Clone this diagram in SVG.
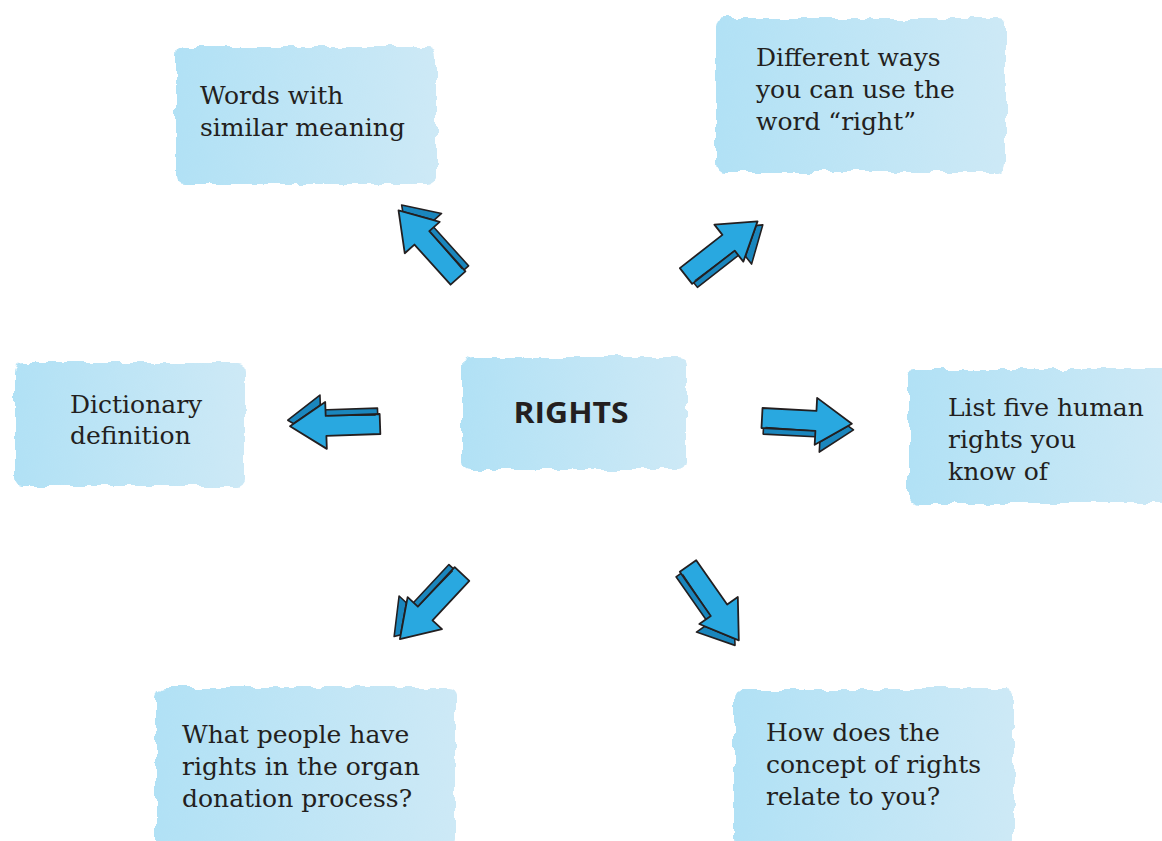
<svg xmlns="http://www.w3.org/2000/svg" width="1162" height="841" viewBox="0 0 1162 841">
  <defs>
    <linearGradient id="wash" x1="0" y1="0" x2="1" y2="0">
      <stop offset="0" stop-color="#b1e1f5"/>
      <stop offset="1" stop-color="#cde9f6"/>
    </linearGradient>
    <filter id="rough" x="-5%" y="-5%" width="110%" height="110%">
      <feTurbulence type="fractalNoise" baseFrequency="0.06" numOctaves="2" seed="3" result="n"/>
      <feDisplacementMap in="SourceGraphic" in2="n" scale="10" xChannelSelector="R" yChannelSelector="G"/>
    </filter>
    <!-- hand-drawn style arrow pointing along +x, tail at origin -->
    <g id="arrow">
      <polygon points="2,3 56,3 56,-16 92,7 59,31 59,16 2,16" fill="#1a86bd" stroke="#231f20" stroke-width="1.6" stroke-linejoin="round"/>
      <polygon points="0,-10 54,-10 54,-23 90,1 54,24 54,10 0,10" fill="#29a8e0" stroke="#231f20" stroke-width="1.8" stroke-linejoin="round"/>
      <path d="M4,9 L52,10 M58,22 L86,4" stroke="#231f20" stroke-width="1" fill="none"/>
    </g>
    <style>
      .box { fill: url(#wash); filter: url(#rough); }
      .lbl { font-family: "DejaVu Serif", "Liberation Serif", serif; font-size: 25px; fill: #231f20; }
      .hub { font-family: "Open Sans", "Liberation Sans", sans-serif; font-size: 28px; font-weight: bold; fill: #231f20; }
    </style>
  </defs>

  <rect width="1162" height="841" fill="#ffffff"/>

  <g id="node-similar">
    <rect class="box" x="176" y="47" width="260" height="137" rx="8"/>
    <text class="lbl" x="200" y="104">Words with</text>
    <text class="lbl" x="200" y="136">similar meaning</text>
  </g>

  <g id="node-ways">
    <rect class="box" x="716" y="18" width="290" height="154" rx="8"/>
    <text class="lbl" x="756" y="66">Different ways</text>
    <text class="lbl" x="756" y="98">you can use the</text>
    <text class="lbl" x="756" y="130">word “right”</text>
  </g>

  <g id="node-rights">
    <rect class="box" x="462" y="357" width="224" height="112" rx="8"/>
    <text class="hub" x="571" y="423" text-anchor="middle" textLength="115" lengthAdjust="spacingAndGlyphs">RIGHTS</text>
  </g>

  <g id="node-dictionary">
    <rect class="box" x="15" y="363" width="230" height="123" rx="8"/>
    <text class="lbl" x="70" y="413">Dictionary</text>
    <text class="lbl" x="70" y="444">definition</text>
  </g>

  <g id="node-list">
    <rect class="box" x="909" y="369" width="260" height="134" rx="8"/>
    <text class="lbl" x="948" y="416">List five human</text>
    <text class="lbl" x="948" y="448">rights you</text>
    <text class="lbl" x="948" y="480">know of</text>
  </g>

  <g id="node-organ">
    <rect class="box" x="156" y="687" width="300" height="160" rx="8"/>
    <text class="lbl" x="182" y="743">What people have</text>
    <text class="lbl" x="182" y="775">rights in the organ</text>
    <text class="lbl" x="182" y="807">donation process?</text>
  </g>

  <g id="node-relate">
    <rect class="box" x="734" y="689" width="280" height="160" rx="8"/>
    <text class="lbl" x="766" y="741">How does the</text>
    <text class="lbl" x="766" y="773">concept of rights</text>
    <text class="lbl" x="766" y="805">relate to you?</text>
  </g>

  <g id="connectors">
    <use href="#arrow" transform="translate(458,278) rotate(-132)"/>
    <use href="#arrow" transform="translate(686,276) rotate(-38)"/>
    <use href="#arrow" transform="translate(380,424) rotate(178)"/>
    <use href="#arrow" transform="translate(762,418) rotate(3)"/>
    <use href="#arrow" transform="translate(462,574) rotate(133)"/>
    <use href="#arrow" transform="translate(688,566) rotate(55)"/>
  </g>
</svg>
